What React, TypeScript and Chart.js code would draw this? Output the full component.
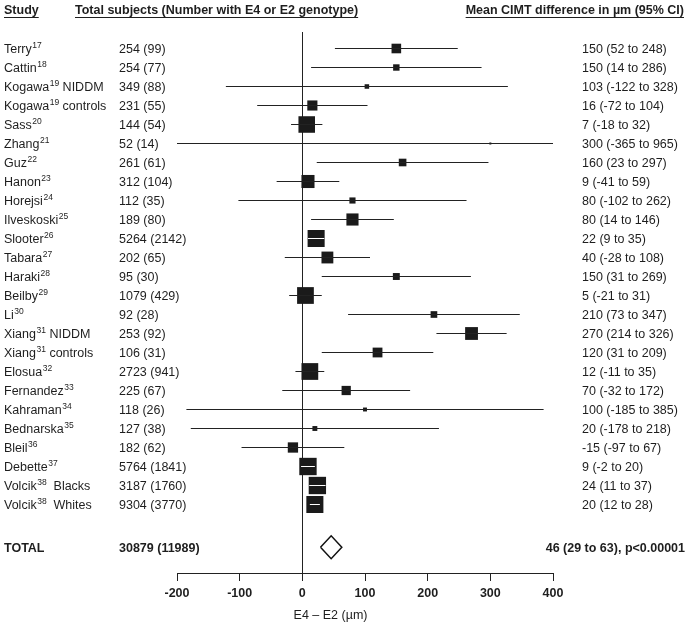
import React, { useEffect, useRef } from 'react';
import { Chart, registerables } from 'chart.js';

Chart.register(...registerables);

// ---- data ----
const studyNames = ['Terry', 'Cattin', 'Kogawa', 'Kogawa', 'Sass', 'Zhang', 'Guz', 'Hanon', 'Horejsi', 'Ilveskoski', 'Slooter', 'Tabara', 'Haraki', 'Beilby', 'Li', 'Xiang', 'Xiang', 'Elosua', 'Fernandez', 'Kahraman', 'Bednarska', 'Bleil', 'Debette', 'Volcik', 'Volcik'];
const studyRefs = ['17', '18', '19', '19', '20', '21', '22', '23', '24', '25', '26', '27', '28', '29', '30', '31', '31', '32', '33', '34', '35', '36', '37', '38', '38'];
const studyGroups = ['', '', ' NIDDM', ' controls', '', '', '', '', '', '', '', '', '', '', '', ' NIDDM', ' controls', '', '', '', '', '', '', '  Blacks', '  Whites'];
const subjects = ['254 (99)', '254 (77)', '349 (88)', '231 (55)', '144 (54)', '52 (14)', '261 (61)', '312 (104)', '112 (35)', '189 (80)', '5264 (2142)', '202 (65)', '95 (30)', '1079 (429)', '92 (28)', '253 (92)', '106 (31)', '2723 (941)', '225 (67)', '118 (26)', '127 (38)', '182 (62)', '5764 (1841)', '3187 (1760)', '9304 (3770)'];
const means = [150, 150, 103, 16, 7, 300, 160, 9, 80, 80, 22, 40, 150, 5, 210, 270, 120, 12, 70, 100, 20, -15, 9, 24, 20];
const lows = [52, 14, -122, -72, -18, -365, 23, -41, -102, 14, 9, -28, 31, -21, 73, 214, 31, -11, -32, -185, -178, -97, -2, 11, 12];
const highs = [248, 286, 328, 104, 32, 965, 297, 59, 262, 146, 35, 108, 269, 31, 347, 326, 209, 35, 172, 385, 218, 67, 20, 37, 28];
const weights = [2.7, 1.2, 0.6, 3.0, 8.0, 0.12, 1.7, 5.0, 1.1, 4.3, 8.5, 4.1, 1.4, 8.2, 1.3, 4.8, 2.8, 8.2, 2.5, 0.45, 0.7, 3.1, 8.8, 8.8, 8.5];

const totalLabel = 'TOTAL';
const totalSubjects = '30879 (11989)';
const totalMean = 46;
const totalLow = 29;
const totalHigh = 63;
const totalP = 'p<0.00001';

const xTicks = [-200, -100, 0, 100, 200, 300, 400];
const xTitle = 'E4 – E2 (µm)';
const headStudy = 'Study';
const headSubjects = 'Total subjects (Number with E4 or E2 genotype)';
const headEffect = 'Mean CIMT difference in µm (95% CI)';

const FONT = "'Liberation Sans', Arial, Helvetica, sans-serif";
const FS = 12.5;
const INK = '#1e1e1e';

export default function App() {
  const ref = useRef<HTMLCanvasElement>(null);

  useEffect(() => {
    const canvas = ref.current;
    if (!canvas) return;
    const n = studyNames.length;
    const totalRow = n + 1.25;
    const sideFor = (w: number) => 5.85 * Math.sqrt(w);

    const ciData: any[] = [];
    for (let i = 0; i < n; i++) {
      ciData.push({ x: lows[i], y: i }, { x: highs[i], y: i }, { x: null, y: null });
    }
    const boxData = means.map((m, i) => ({ x: m, y: i }));
    const diamondData = [
      { x: totalLow, y: totalRow },
      { x: totalMean, y: totalRow - 0.6 },
      { x: totalHigh, y: totalRow },
      { x: totalMean, y: totalRow + 0.6 },
      { x: totalLow, y: totalRow },
    ];

    const textPlugin = {
      id: 'forestText',
      afterDraw(chart: any) {
        const ctx = chart.ctx as CanvasRenderingContext2D;
        const ys = chart.scales.y;
        const xs = chart.scales.x;
        ctx.save();
        ctx.fillStyle = INK;
        ctx.strokeStyle = INK;
        ctx.textBaseline = 'middle';

        const underline = (text: string, x: number, y: number, align: CanvasTextAlign) => {
          ctx.textAlign = align;
          ctx.fillText(text, x, y);
          const w = ctx.measureText(text).width;
          const x0 = align === 'right' ? x - w : x;
          ctx.lineWidth = 1;
          ctx.beginPath();
          ctx.moveTo(x0, y + 6.5);
          ctx.lineTo(x0 + w, y + 6.5);
          ctx.stroke();
        };
        ctx.font = `bold ${FS}px ${FONT}`;
        underline(headStudy, 4, 11, 'left');
        underline(headSubjects, 75, 11, 'left');
        underline(headEffect, 684, 11, 'right');

        for (let i = 0; i < n; i++) {
          const y = ys.getPixelForValue(i) + 1;
          ctx.textAlign = 'left';
          ctx.font = `${FS}px ${FONT}`;
          ctx.fillText(studyNames[i], 4, y);
          let x = 4 + ctx.measureText(studyNames[i]).width + 0.5;
          ctx.font = `8.5px ${FONT}`;
          ctx.fillText(studyRefs[i], x, y - 4);
          x += ctx.measureText(studyRefs[i]).width;
          ctx.font = `${FS}px ${FONT}`;
          if (studyGroups[i]) ctx.fillText(studyGroups[i], x, y);
          ctx.fillText(subjects[i], 119, y);
          ctx.fillText(`${means[i]} (${lows[i]} to ${highs[i]})`, 582, y);
        }

        const ty = ys.getPixelForValue(totalRow) + 1;
        ctx.font = `bold ${FS}px ${FONT}`;
        ctx.textAlign = 'left';
        ctx.fillText(totalLabel, 4, ty);
        ctx.fillText(totalSubjects, 119, ty);
        ctx.textAlign = 'right';
        ctx.fillText(`${totalMean} (${totalLow} to ${totalHigh}), ${totalP}`, 685, ty);

        ctx.font = `${FS}px ${FONT}`;
        ctx.textAlign = 'center';
        ctx.fillText(xTitle, xs.getPixelForValue(45), 616);
        ctx.restore();
      },
    };

    const chart = new Chart(canvas, {
      type: 'scatter',
      data: {
        datasets: [
          {
            label: 'ci',
            data: ciData,
            showLine: true,
            spanGaps: false,
            pointRadius: 0,
            borderWidth: 1,
            borderColor: '#222',
            segment: {
              borderColor: (c: any) => {
                const row = Math.floor(c.p0DataIndex / 3);
                const len = Math.abs(c.p1.x - c.p0.x);
                return len < sideFor(weights[row]) - 0.5 ? '#ffffff' : '#222';
              },
            },
          } as any,
          {
            label: 'boxes',
            data: boxData,
            showLine: false,
            pointStyle: 'rect',
            pointRadius: (c: any) => sideFor(weights[c.dataIndex]) / Math.SQRT2,
            pointBackgroundColor: '#1a1a1a',
            pointBorderWidth: 0,
            pointBorderColor: '#1a1a1a',
          } as any,
          {
            label: 'total',
            data: diamondData,
            showLine: true,
            pointRadius: 0,
            borderWidth: 1.5,
            borderColor: '#111',
            borderJoinStyle: 'miter',
            tension: 0,
            fill: false,
          } as any,
        ],
      },
      options: {
        responsive: false,
        animation: false,
        events: [],
        layout: { padding: { left: 177, right: 136, top: 32, bottom: 20 } },
        plugins: { legend: { display: false }, tooltip: { enabled: false } },
        scales: {
          x: {
            type: 'linear',
            position: 'bottom',
            min: -200,
            max: 400,
            afterBuildTicks: (s: any) => { s.ticks = xTicks.map((v) => ({ value: v })); },
            border: { display: true, color: '#222', width: 1 },
            grid: {
              drawOnChartArea: true,
              drawTicks: true,
              tickLength: 8,
              tickColor: '#222',
              lineWidth: 1,
              color: (c: any) => (c.tick && c.tick.value === 0 ? '#222' : 'rgba(0,0,0,0)'),
            },
            ticks: {
              font: { family: FONT, size: FS, weight: 'bold' },
              color: INK,
              padding: 5,
              maxRotation: 0,
            },
          },
          y: {
            type: 'linear',
            display: false,
            reverse: true,
            min: -(48.5 - 32) / 19,
            max: (573 - 48.5) / 19,
          },
        },
      },
      plugins: [textPlugin],
    } as any);

    return () => chart.destroy();
  }, []);

  return (
    <div style={{ position: 'absolute', left: 0, top: 0, width: 689, height: 626, background: '#fff' }}>
      <canvas ref={ref} width={689} height={626} />
    </div>
  );
}
